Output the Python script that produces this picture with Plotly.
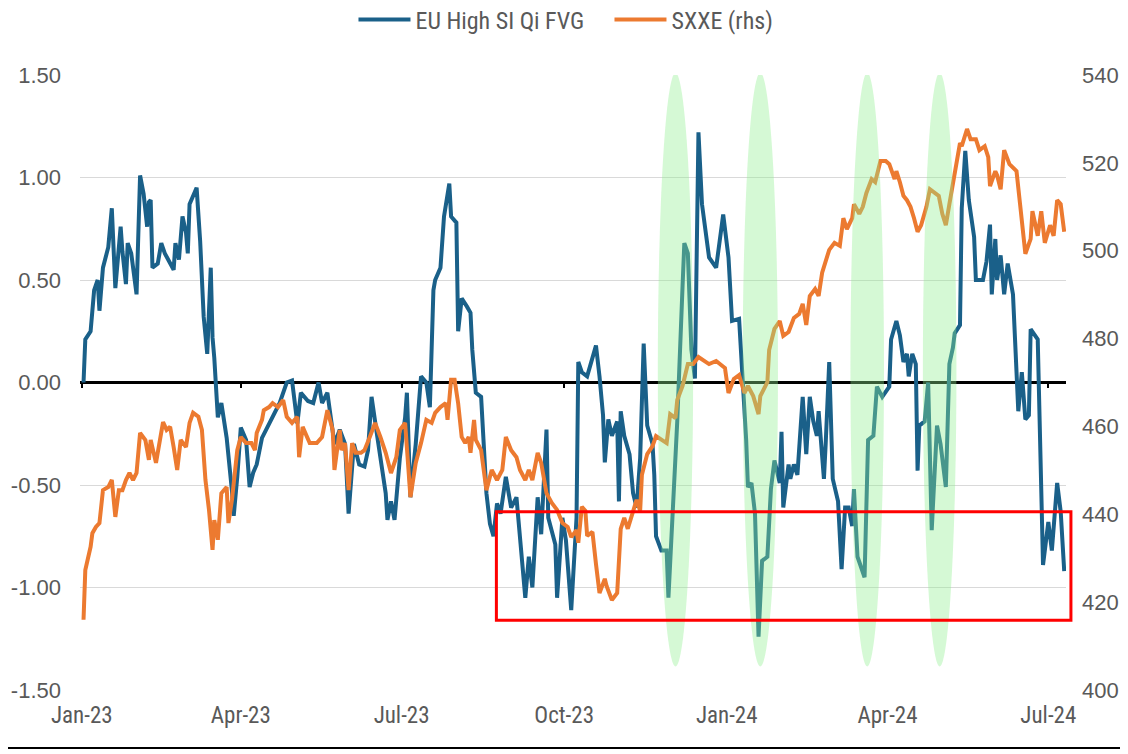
import pandas as pd
import plotly.graph_objects as go

# ---------------- data ----------------
BASE_DATE = "2023-01-01"

# EU High SI Qi FVG (left axis): day offset from 1-Jan-2023, value
blue_days = [1,2,5,7,9,10,12,15,17,19,22,23,25,26,28,31,33,35,37,38,39,40,43,45,47,52,53,55,57,59,60,61,65,67,69,71,73,74,75,76,77,79,82,85,86,88,90,93,95,97,99,102,106,110,112,116,119,122,124,128,131,134,136,139,143,146,149,151,154,157,160,162,164,167,170,172,173,175,177,180,183,184,186,189,192,195,197,199,200,203,205,208,209,212,213,215,218,220,221,223,226,228,229,231,233,235,237,240,243,246,248,251,253,255,258,260,263,264,268,269,272,274,277,280,281,283,286,291,293,295,296,298,300,303,304,305,307,310,312,314,316,318,320,323,324,325,328,331,332,335,337,340,341,343,345,347,349,351,355,359,363,366,368,372,374,376,377,379,381,383,385,388,390,392,395,396,397,400,401,403,405,408,410,412,414,416,417,420,421,423,425,428,430,432,434,436,437,439,443,445,448,450,453,457,458,461,463,465,467,468,470,472,473,474,477,479,481,484,486,489,491,493,494,497,498,500,502,505,506,510,512,514,515,517,518,520,522,524,527,529,530,532,534,536,537,541,544,547,549,552,554,556]
blue_vals = [0.00,0.21,0.25,0.45,0.50,0.35,0.56,0.66,0.85,0.46,0.76,0.64,0.48,0.68,0.63,0.43,1.01,0.92,0.76,0.88,0.89,0.56,0.58,0.68,0.63,0.55,0.68,0.60,0.81,0.73,0.63,0.87,0.95,0.69,0.32,0.14,0.56,0.22,0.12,0.00,-0.17,-0.10,-0.27,-0.53,-0.65,-0.46,-0.22,-0.28,-0.51,-0.44,-0.40,-0.27,-0.20,-0.14,-0.10,0.00,0.01,-0.20,-0.05,-0.09,-0.10,0.00,-0.10,-0.05,-0.30,-0.23,-0.30,-0.64,-0.30,-0.40,-0.41,-0.33,-0.07,-0.25,-0.43,-0.54,-0.67,-0.58,-0.67,-0.37,-0.17,-0.05,-0.56,-0.30,0.03,0.00,-0.12,0.45,0.50,0.56,0.81,0.97,0.81,0.78,0.25,0.41,0.37,0.34,0.16,-0.05,-0.07,-0.40,-0.54,-0.69,-0.75,-0.59,-0.64,-0.46,-0.61,-0.56,-0.75,-1.05,-0.85,-1.00,-0.56,-0.74,-0.23,-0.66,-0.79,-1.05,-0.66,-0.77,-1.11,-0.66,0.10,0.05,0.03,0.18,0.03,-0.16,-0.39,-0.18,-0.26,-0.19,-0.58,-0.14,-0.26,-0.35,-0.54,-0.61,-0.37,0.19,-0.21,-0.30,-0.45,-0.75,-0.82,-0.82,-1.05,-0.51,-0.19,0.47,0.68,0.63,0.16,0.02,1.22,0.87,0.61,0.56,0.82,0.61,0.30,0.31,0.02,-0.28,-0.51,-0.49,-0.64,-1.24,-0.87,-0.85,-0.52,-0.38,-0.49,-0.24,-0.61,-0.40,-0.47,-0.40,-0.45,-0.07,-0.35,-0.07,-0.19,-0.26,-0.14,-0.47,-0.30,0.10,-0.47,-0.58,-0.91,-0.61,-0.61,-0.70,-0.52,-0.85,-0.95,-0.28,-0.26,-0.02,-0.07,-0.02,0.21,0.30,0.23,0.10,0.14,0.03,0.14,0.09,-0.43,-0.21,-0.19,0.00,-0.72,-0.21,-0.30,-0.51,0.09,0.17,0.24,0.28,0.85,1.13,0.89,0.71,0.50,0.50,0.59,0.77,0.43,0.70,0.50,0.62,0.43,0.58,0.43,0.07,-0.14,0.05,-0.18,-0.16,0.26,0.21,-0.89,-0.68,-0.82,-0.49,-0.63,-0.92]

# SXXE (right axis): day offset from 1-Jan-2023, index level
orange_days = [1,2,5,6,8,10,12,15,17,19,21,23,25,27,29,31,33,36,38,39,42,44,46,48,50,52,54,56,59,61,63,66,68,70,72,74,75,77,79,82,83,85,88,90,93,96,98,99,102,103,106,108,111,114,116,119,122,123,125,129,133,136,139,142,143,146,147,149,151,153,155,158,160,163,166,169,172,175,178,180,183,186,189,192,195,198,200,203,206,207,209,211,213,215,217,219,220,222,223,226,229,232,235,238,240,243,246,248,251,253,255,258,260,263,266,269,272,275,277,280,281,283,285,286,289,291,293,296,297,300,303,305,307,309,312,314,316,317,320,323,325,328,331,333,336,337,340,343,346,349,352,355,359,361,364,366,369,372,375,377,380,383,384,386,388,389,392,395,397,400,403,406,408,410,412,415,417,419,421,423,426,429,431,433,436,437,440,442,444,447,449,452,455,457,460,461,463,465,467,469,471,473,475,478,480,483,485,487,489,491,494,497,498,501,503,506,508,511,513,514,517,518,520,522,525,527,529,531,533,534,537,538,541,543,545,548,550,552,554,556]
orange_vals = [416.0,427.3,432.6,435.7,437.1,438.0,445.5,446.2,447.8,439.4,445.5,445.5,447.8,449.4,447.8,449.4,458.5,456.9,452.4,456.9,451.7,456.2,461.0,459.2,459.9,455.3,450.1,456.9,455.3,460.8,463.1,462.2,459.2,447.8,441.0,431.9,438.7,434.2,444.8,446.2,438.0,443.3,454.6,457.6,456.2,456.2,454.6,458.5,461.5,463.7,464.4,465.3,464.4,466.0,462.2,460.8,462.2,453.0,459.9,456.2,456.2,457.6,463.7,459.2,450.1,459.2,454.6,456.2,445.5,456.2,454.0,454.0,454.6,457.6,460.8,457.6,454.0,449.4,453.0,459.2,460.8,443.9,451.7,456.2,461.5,460.8,463.1,464.4,465.3,461.5,470.6,470.6,465.3,457.6,456.2,457.6,454.0,461.5,456.9,454.6,445.5,450.1,447.8,450.1,457.6,454.6,453.0,450.1,447.8,450.1,447.8,454.0,451.7,444.8,442.6,441.0,438.0,437.1,434.8,436.4,433.5,441.7,440.8,435.1,436.0,428.7,422.1,425.3,423.7,420.5,422.1,436.7,439.2,436.7,440.8,443.3,440.8,449.0,453.7,455.5,457.8,457.1,456.2,462.8,461.9,466.0,469.2,474.2,474.2,475.8,474.9,474.2,474.9,474.2,473.3,467.6,470.8,471.7,467.6,469.2,466.9,462.8,466.9,468.5,470.1,477.4,482.2,484.0,480.6,481.5,484.7,485.6,487.9,483.1,489.7,491.3,489.7,495.0,497.7,500.2,501.8,501.1,507.4,504.9,507.4,510.6,508.4,510.0,513.1,516.3,515.6,520.4,520.4,519.7,516.3,518.1,515.6,512.5,511.5,510.0,507.4,504.3,505.8,510.0,514.0,513.1,512.5,508.4,505.8,510.6,518.1,524.5,523.8,527.7,525.4,525.4,522.9,523.8,521.3,514.7,518.1,517.2,514.0,522.9,519.7,518.8,518.1,510.6,503.4,499.3,502.7,509.0,503.4,509.0,501.8,505.8,503.4,511.5,510.6,504.3]

# Axis ticks
x_tick_dates = ["2023-01-01", "2023-04-01", "2023-07-01", "2023-10-01", "2024-01-01", "2024-04-01", "2024-07-01"]
x_tick_labels = ["Jan-23", "Apr-23", "Jul-23", "Oct-23", "Jan-24", "Apr-24", "Jul-24"]
left_ticks = [-1.5, -1.0, -0.5, 0.0, 0.5, 1.0, 1.5]
left_tick_labels = ["-1.50", "-1.00", "-0.50", "0.00", "0.50", "1.00", "1.50"]
right_ticks = [400, 420, 440, 460, 480, 500, 520, 540]

# Highlighted periods (green ellipses) and the red box
highlight_start = ["2023-11-23", "2024-01-10", "2024-03-11", "2024-04-21"]
highlight_end = ["2023-12-13", "2024-01-30", "2024-03-30", "2024-05-10"]
box_low, box_high = -1.16, -0.63

# ---------------- figure ----------------
base = pd.Timestamp(BASE_DATE)
blue_dates = base + pd.to_timedelta(blue_days, unit="D")
orange_dates = base + pd.to_timedelta(orange_days, unit="D")

BLUE = "#1A6089"
ORANGE = "#EC7A30"
GREY = "#595959"
NARROW = "Liberation Sans Narrow, Arial Narrow, Roboto Condensed, sans-serif"

fig = go.Figure()
fig.add_trace(go.Scatter(x=blue_dates, y=blue_vals, mode="lines", name="EU High SI Qi FVG",
                         line=dict(color=BLUE, width=4)))
fig.add_trace(go.Scatter(x=orange_dates, y=orange_vals, mode="lines", name="SXXE (rhs)",
                         yaxis="y2", line=dict(color=ORANGE, width=4)))
# helper trace to host the zero-crossing axis
fig.add_trace(go.Scatter(x=[blue_dates[0]], y=[None], xaxis="x2", showlegend=False,
                         hoverinfo="skip", mode="lines"))

shapes = []
for s, e in zip(highlight_start, highlight_end):
    shapes.append(dict(type="circle", xref="x", yref="y", x0=s, x1=e, y0=-1.385, y1=1.51,
                       fillcolor="rgba(144,238,144,0.38)", line=dict(width=0), layer="above"))
shapes.append(dict(type="rect", xref="paper", yref="y", x0=0.4223, x1=1.005, y0=box_low, y1=box_high,
                   line=dict(color="#FF0000", width=3), fillcolor="rgba(0,0,0,0)", layer="above"))
shapes.append(dict(type="line", xref="paper", yref="paper", x0=-0.09, x1=1.08, y0=-0.0943, y1=-0.0943,
                   line=dict(color="black", width=2)))

fig.update_layout(
    width=1120, height=746,
    margin=dict(l=72, r=62, t=67, b=64, autoexpand=False),
    paper_bgcolor="white", plot_bgcolor="white",
    font=dict(family="Liberation Sans, Arial, sans-serif", color=GREY),
    showlegend=True,
    legend=dict(orientation="h", x=0.537, xanchor="center", xref="paper",
                y=0.984, yanchor="middle", yref="container",
                font=dict(family=NARROW, size=24, color=GREY),
                itemwidth=52, entrywidth=189, entrywidthmode="pixels", bgcolor="rgba(0,0,0,0)"),
    shapes=shapes,
    xaxis=dict(type="date", range=["2022-12-31", "2024-07-11"], tickvals=x_tick_dates, ticktext=x_tick_labels,
               showgrid=False, zeroline=False, showline=False, ticks="", automargin=False,
               tickfont=dict(family=NARROW, size=23, color=GREY), ticklabelstandoff=9),
    xaxis2=dict(type="date", overlaying="x", matches="x", anchor="free", position=0.5008,
                showline=True, linecolor="black", linewidth=3, ticks="outside", ticklen=4, tickwidth=2,
                tickcolor="black", tickvals=x_tick_dates, showticklabels=False, showgrid=False,
                zeroline=False, layer="below traces", automargin=False),
    yaxis=dict(range=[-1.5, 1.5], tickvals=left_ticks, ticktext=left_tick_labels, showgrid=True,
               gridcolor="#D9D9D9", gridwidth=1, zeroline=False, showline=False, ticks="",
               tickfont=dict(size=22, color=GREY), ticklabelstandoff=18, automargin=False),
    yaxis2=dict(range=[400, 540], tickvals=right_ticks, overlaying="y", side="right", showgrid=False,
                zeroline=False, showline=False, ticks="", tickfont=dict(size=22, color=GREY),
                ticklabelstandoff=15, automargin=False),
)

fig.write_html("out.html")
